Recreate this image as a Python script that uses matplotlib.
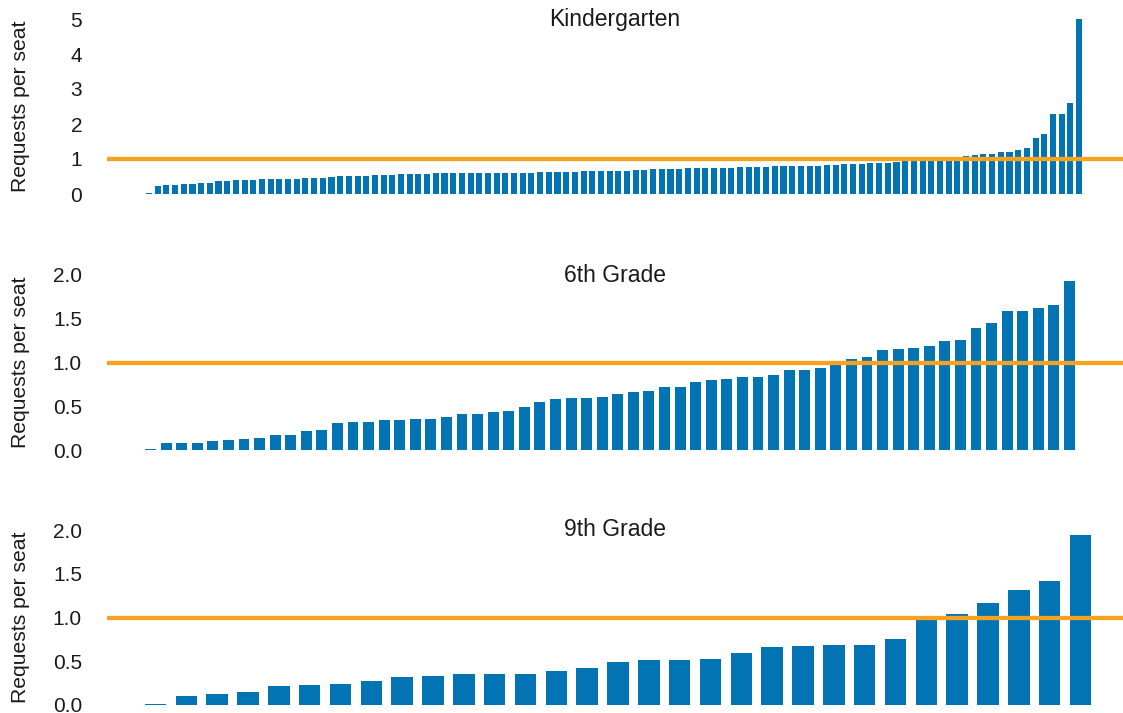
import matplotlib
matplotlib.use("Agg")
import matplotlib.pyplot as plt
import numpy as np

plt.rcParams['font.family'] = ['Liberation Sans', 'DejaVu Sans']

# ---- data ----
titles = ["Kindergarten", "6th Grade", "9th Grade"]

kinder = [0.02, 0.23, 0.26, 0.26, 0.29, 0.29, 0.31, 0.31, 0.37, 0.37,
          0.40, 0.40, 0.40, 0.43, 0.43, 0.43, 0.43, 0.43, 0.46, 0.46,
          0.46, 0.49, 0.51, 0.51, 0.51, 0.51, 0.54, 0.54, 0.54, 0.57,
          0.57, 0.57, 0.57, 0.60, 0.60, 0.60, 0.60, 0.60, 0.60, 0.60,
          0.60, 0.60, 0.60, 0.60, 0.60, 0.63, 0.63, 0.63, 0.63, 0.63,
          0.66, 0.66, 0.66, 0.66, 0.66, 0.66, 0.69, 0.69, 0.71, 0.71,
          0.71, 0.71, 0.74, 0.74, 0.74, 0.74, 0.74, 0.74, 0.77, 0.77,
          0.77, 0.77, 0.80, 0.80, 0.80, 0.80, 0.80, 0.80, 0.83, 0.83,
          0.86, 0.86, 0.86, 0.89, 0.89, 0.89, 0.91, 0.94, 0.97, 0.97,
          0.97, 1.00, 1.00, 1.03, 1.09, 1.11, 1.14, 1.14, 1.20, 1.20,
          1.26, 1.31, 1.60, 1.71, 2.29, 2.29, 2.60, 5.00]

grade6 = [0.01, 0.08, 0.08, 0.08, 0.10, 0.11, 0.125, 0.14, 0.17, 0.17,
          0.22, 0.23, 0.31, 0.32, 0.32, 0.34, 0.34, 0.35, 0.35, 0.375,
          0.41, 0.41, 0.44, 0.45, 0.49, 0.545, 0.58, 0.59, 0.60, 0.61,
          0.64, 0.66, 0.68, 0.72, 0.72, 0.78, 0.795, 0.81, 0.83, 0.84,
          0.86, 0.91, 0.91, 0.94, 0.98, 1.045, 1.06, 1.14, 1.16, 1.17,
          1.19, 1.25, 1.26, 1.40, 1.45, 1.59, 1.59, 1.625, 1.66, 1.93]

grade9 = [0.01, 0.10, 0.125, 0.15, 0.22, 0.23, 0.24, 0.27, 0.32, 0.33,
          0.35, 0.35, 0.36, 0.39, 0.42, 0.49, 0.51, 0.51, 0.53, 0.60,
          0.66, 0.68, 0.69, 0.69, 0.76, 0.99, 1.045, 1.17, 1.32, 1.42,
          1.94]

threshold = 1.0
kinder_ticks = [0, 1, 2, 3, 4, 5]
grade_ticks = [0.0, 0.5, 1.0, 1.5, 2.0]
ylabel = "Requests per seat"

# ---- style ----
BAR = "#0274B3"
LINE = "#F4A21F"

W, H = 1123, 713
fig = plt.figure(figsize=(W / 100, H / 100), dpi=100)

left_px, right_px = 107, 1123
panels = [
    dict(vals=kinder, title=titles[0], y0=194, ylim=(0, 5), ticks=kinder_ticks,
         fmt="{:.0f}", c0=149.0, cN=1079.0),
    dict(vals=grade6, title=titles[1], y0=450, ylim=(0, 2.0), ticks=grade_ticks,
         fmt="{:.1f}", c0=150.5, cN=1069.5),
    dict(vals=grade9, title=titles[2], y0=705, ylim=(0, 2.0), ticks=grade_ticks,
         fmt="{:.1f}", c0=155.5, cN=1080.5),
]
ax_h_px = 175

for p in panels:
    vals = p["vals"]
    n = len(vals)
    ax = fig.add_axes([left_px / W, (H - p["y0"]) / H,
                       (right_px - left_px) / W, ax_h_px / H])
    x = np.arange(n)
    ax.bar(x, vals, width=0.7, color=BAR, zorder=2)
    ax.axhline(threshold, color=LINE, lw=3.1, zorder=3)
    pitch = (p["cN"] - p["c0"]) / (n - 1)
    ax.set_xlim((left_px - p["c0"]) / pitch, (right_px - p["c0"]) / pitch)
    ax.set_ylim(*p["ylim"])
    ax.set_yticks(p["ticks"])
    ax.set_yticklabels([p["fmt"].format(t) for t in p["ticks"]])
    ax.set_xticks([])
    ax.tick_params(axis="y", length=0, pad=18, labelsize=15, labelcolor="#1a1a1a")
    for s in ax.spines.values():
        s.set_visible(False)
    ax.patch.set_alpha(0)
    ax.text(0.5, p["ylim"][1], p["title"], transform=ax.get_yaxis_transform(),
            ha="center", va="center", fontsize=16.5, color="#1a1a1a")
    yc = (H - p["y0"] + ax_h_px / 2) / H
    fig.text(21 / W, yc, ylabel, rotation=90, ha="center", va="center",
             fontsize=15.2, color="#1a1a1a")

fig.savefig("out.png", dpi=100)
